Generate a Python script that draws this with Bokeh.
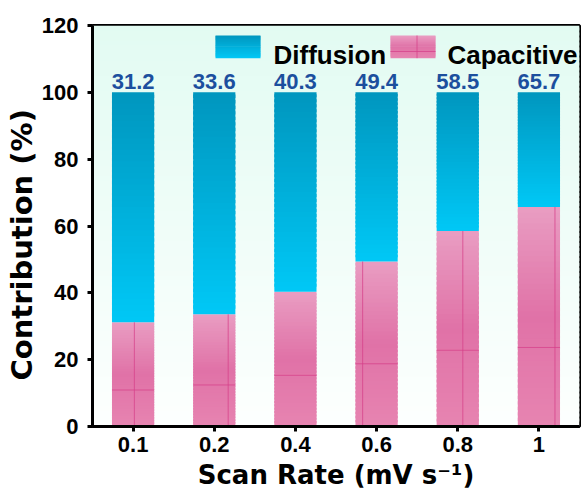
import numpy as np
from bokeh.plotting import figure
from bokeh.models import FixedTicker, Range1d, Title
from bokeh.embed import file_html
from bokeh.resources import INLINE
from bokeh.core.properties import value

# ---- data ----
scan_rates = ["0.1", "0.2", "0.4", "0.6", "0.8", "1"]
capacitive = [31.2, 33.6, 40.3, 49.4, 58.5, 65.7]
diffusion = [68.8, 66.4, 59.7, 50.6, 41.5, 34.3]
cap_labels = ["31.2", "33.6", "40.3", "49.4", "58.5", "65.7"]
y_ticks = [0, 20, 40, 60, 80, 100, 120]

# ---- styling ----
W, H = 582, 497
FRAME_L, FRAME_R, FRAME_T, FRAME_B = 92, 579, 25, 426
BAR_W = 0.52
ARIAL = "Liberation Sans"
WIDE = "DejaVu Sans"
# texture seams of the pink fill pattern (fraction of bar height, offset from bar centre in bar widths)
SEAM_H = [0.35, 0.37, 0.38, 0.38, 0.39, 0.36]
SEAM_V = [0.03, 0.33, None, -0.33, 0.12, 0.38]
SEAM_COLOR = "#d6408a"

diff_stops = [(0.0, (0, 150, 190)), (1.0, (0, 200, 246))]          # top -> bottom
cap_stops = [(0.0, (233, 157, 194)), (0.5, (224, 114, 167)), (1.0, (231, 132, 177))]
bg_stops = [(0.0, (226, 251, 242)), (1.0, (253, 255, 254))]


def interp(stops, t):
    for (t0, c0), (t1, c1) in zip(stops[:-1], stops[1:]):
        if t <= t1:
            f = 0 if t1 == t0 else (t - t0) / (t1 - t0)
            return "#%02x%02x%02x" % tuple(int(round(a + (b - a) * f)) for a, b in zip(c0, c1))
    return "#%02x%02x%02x" % stops[-1][1]


def gradient_quads(p, left, right, bottom, top, stops, n=40):
    edges = np.linspace(bottom, top, n + 1)
    span = top - bottom
    overlap = span / n * 0.6
    L, R, B, T, C = [], [], [], [], []
    for k in range(n):
        b, t = edges[k], edges[k + 1]
        frac_from_top = 1 - ((b + t) / 2 - bottom) / span
        L.append(left); R.append(right); B.append(b)
        T.append(min(t + overlap, top))
        C.append(interp(stops, frac_from_top))
    p.quad(left=L, right=R, bottom=B, top=T, fill_color=C, line_color=None)


def dx(px):
    return -0.5 + (px - FRAME_L) / (FRAME_R - FRAME_L) * len(scan_rates)


def dy(py):
    return (FRAME_B - py) / (FRAME_B - FRAME_T) * y_ticks[-1]


p = figure(width=W, height=H, output_backend="svg", toolbar_location=None,
           x_range=Range1d(-0.5, len(scan_rates) - 0.5), y_range=Range1d(0, y_ticks[-1]),
           min_border_left=FRAME_L, min_border_right=W - FRAME_R,
           min_border_top=FRAME_T, min_border_bottom=H - FRAME_B)
p.background_fill_color = "white"
p.border_fill_color = "white"
p.outline_line_color = "black"
p.outline_line_width = 3
p.xgrid.visible = False
p.ygrid.visible = False

# background gradient of the plot area
gradient_quads(p, -0.5, len(scan_rates) - 0.5, 0, y_ticks[-1], bg_stops, n=80)

# stacked bars
for i, (c, d) in enumerate(zip(capacitive, diffusion)):
    gradient_quads(p, i - BAR_W / 2, i + BAR_W / 2, 0, c, cap_stops)
    gradient_quads(p, i - BAR_W / 2, i + BAR_W / 2, c, c + d, diff_stops)
    # pattern seams in the pink fill
    hy = c * SEAM_H[i]
    p.segment(x0=[i - BAR_W / 2], x1=[i + BAR_W / 2], y0=[hy], y1=[hy],
              line_color=SEAM_COLOR, line_width=1, line_alpha=0.75)
    if SEAM_V[i] is not None:
        vx = i + SEAM_V[i] * BAR_W
        p.segment(x0=[vx], x1=[vx], y0=[0], y1=[c],
                  line_color=SEAM_COLOR, line_width=1, line_alpha=0.75)

# value labels
xs = list(range(len(scan_rates)))
tops = [c + d for c, d in zip(capacitive, diffusion)]
p.text(x=xs, y=tops, text=cap_labels, y_offset=-3, text_align="center",
       text_baseline="bottom", text_font=value(ARIAL), text_font_style="bold",
       text_font_size="22px", text_color="#1c4f9e")

# legend (manual, gradient swatches)
sw_top, sw_bot = dy(35), dy(57.7)
gradient_quads(p, dx(215), dx(260), sw_bot, sw_top, diff_stops, n=20)
gradient_quads(p, dx(390), dx(435), sw_bot, sw_top, cap_stops, n=20)
p.segment(x0=[dx(390)], x1=[dx(435)], y0=[dy(51)], y1=[dy(51)],
          line_color=SEAM_COLOR, line_width=1, line_alpha=0.75)
p.segment(x0=[dx(416.5)], x1=[dx(416.5)], y0=[sw_bot], y1=[sw_top],
          line_color=SEAM_COLOR, line_width=1, line_alpha=0.75)
p.text(x=[dx(273), dx(447)], y=[dy(54.6)] * 2, text=["Diffusion", "Capacitive"],
       text_align="left", text_baseline="alphabetic", text_font=value(ARIAL),
       text_font_style="bold", text_font_size="26px", text_color="black")

# axes
p.xaxis.ticker = FixedTicker(ticks=xs)
p.xaxis.major_label_overrides = {i: s for i, s in enumerate(scan_rates)}
p.yaxis.ticker = FixedTicker(ticks=y_ticks)
for ax in (p.xaxis[0], p.yaxis[0]):
    ax.axis_line_width = 3
    ax.axis_line_color = "black"
    ax.major_tick_in = 0
    ax.major_tick_out = 5
    ax.major_tick_line_width = 3
    ax.minor_tick_line_color = None
    ax.major_label_text_font = ARIAL
    ax.major_label_text_font_style = "bold"
    ax.major_label_text_font_size = "22px"
    ax.major_label_text_color = "black"

p.yaxis.major_label_standoff = 9
p.xaxis.major_label_standoff = 5

# x axis title
p.xaxis.axis_label = "Scan Rate (mV s\u207b\u00b9)"
p.xaxis.axis_label_text_font = WIDE
p.xaxis.axis_label_text_font_style = "bold"
p.xaxis.axis_label_text_font_size = "26px"
p.xaxis.axis_label_text_color = "black"
p.xaxis.axis_label_standoff = 5

# y axis title as a side title (start-aligned, offset from the frame bottom)
p.add_layout(Title(text="Contribution (%)", align="left", offset=46, standoff=0,
                   text_font=WIDE, text_font_style="bold", text_font_size="29px",
                   text_color="black"), "left")

open("out.html", "w").write(file_html(p, INLINE))
